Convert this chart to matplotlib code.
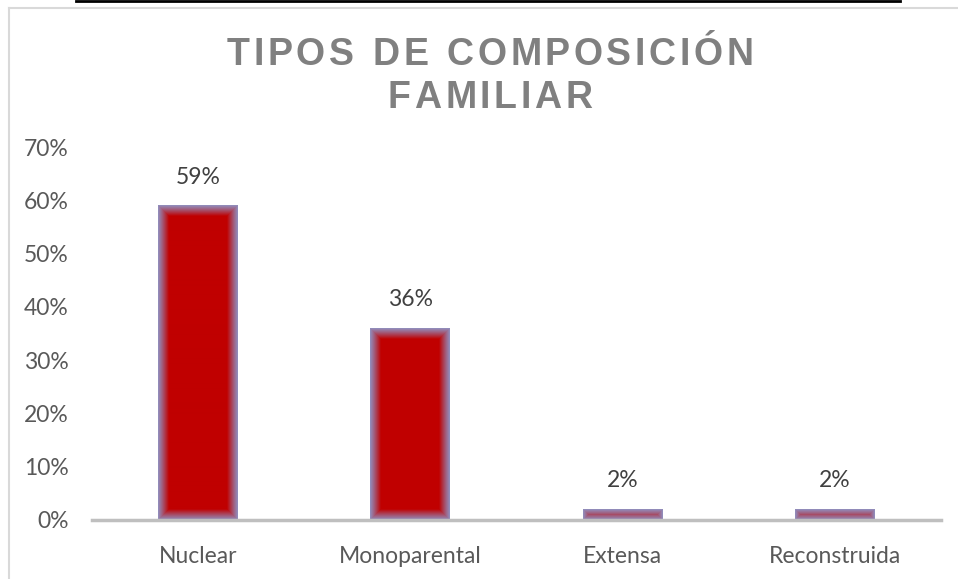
import numpy as np
import matplotlib
matplotlib.use("Agg")
import matplotlib.pyplot as plt
from matplotlib.lines import Line2D
from matplotlib.colors import to_rgb

# data
categories = ["Nuclear", "Monoparental", "Extensa", "Reconstruida"]
values = [0.59, 0.36, 0.02, 0.02]
value_labels = ["59%", "36%", "2%", "2%"]
yticks = [0, 0.1, 0.2, 0.3, 0.4, 0.5, 0.6, 0.7]
ytick_labels = ["0%", "10%", "20%", "30%", "40%", "50%", "60%", "70%"]
title_lines = ["TIPOS DE COMPOSICIÓN", "FAMILIAR"]

W, H = 958, 579
fig = plt.figure(figsize=(W / 100, H / 100), dpi=100)
ax = fig.add_axes([92 / W, 1 - 520 / H, (941 - 92) / W, (520 - 147) / H])

x = np.arange(len(categories))
bars = ax.bar(x, values, width=0.376, color="#C00000", zorder=2)

ax.set_xlim(-0.5, len(categories) - 0.5)
ax.set_ylim(0, 0.7)
ax.set_yticks(yticks)
ax.set_yticklabels(ytick_labels)
ax.set_xticks(x)
ax.set_xticklabels(categories)
for s in ["top", "right", "left"]:
    ax.spines[s].set_visible(False)
ax.spines["bottom"].set_color("#BFBFBF")
ax.spines["bottom"].set_linewidth(2.5)
ax.spines["bottom"].set_zorder(3)
ax.tick_params(axis="both", length=0, labelcolor="#595959", labelsize=16.5)
ax.tick_params(axis="y", pad=17)
ax.tick_params(axis="x", pad=19)
for lab in ax.get_xticklabels() + ax.get_yticklabels():
    lab.set_fontfamily("Lato")

# data labels
for xi, v, lab in zip(x, values, value_labels):
    ax.annotate(lab, (xi, v), xytext=(0, 13), textcoords="offset points",
                ha="center", va="bottom", fontsize=16.5, color="#404040",
                fontfamily="Lato")

# soft bluish glow on bar edges
fig.canvas.draw()
red = np.array(to_rgb("#C00000"))
edge = np.array(to_rgb("#9090C0"))
for b in bars:
    bb = b.get_window_extent()
    wpx, hpx = max(int(round(bb.width)), 2), max(int(round(bb.height)), 2)
    xx = np.arange(wpx) + 0.5
    yy = np.arange(hpx) + 0.5
    dx = np.minimum(xx, wpx - xx)[None, :]
    dy = np.minimum(yy, hpx - yy)[:, None]
    d = np.minimum(dx, dy)
    t = np.clip(d / 11.0, 0, 1)[..., None] ** 1.1
    img = edge * (1 - t) + red * t
    x0 = b.get_x()
    ax.imshow(img, extent=(x0, x0 + b.get_width(), 0, b.get_height()),
              aspect="auto", interpolation="bilinear", zorder=2.5, origin="lower")
ax.set_xlim(-0.5, len(categories) - 0.5)
ax.set_ylim(0, 0.7)

# title with letter spacing
renderer = fig.canvas.get_renderer()


def spaced_line(text, cx, baseline_y, size, spacing):
    widths = []
    for ch in text:
        t = fig.text(0, 0, ch if ch != " " else "n", fontsize=size, fontweight="bold",
                     fontfamily="Liberation Sans")
        w = t.get_window_extent(renderer).width
        if ch == " ":
            w *= 0.5
        widths.append(w)
        t.remove()
    total = sum(widths) + spacing * (len(text) - 1)
    pos = cx - total / 2
    for ch, w in zip(text, widths):
        if ch != " ":
            fig.text(pos / W, 1 - baseline_y / H, ch, fontsize=size, fontweight="bold",
                     fontfamily="Liberation Sans", color="#808080",
                     va="baseline", ha="left")
        pos += w + spacing


spaced_line(title_lines[0], 490, 65, 27, 3.6)
spaced_line(title_lines[1], 490, 108, 27, 3.6)

# chart border and top rule
fig.add_artist(Line2D([9 / W, 9 / W], [0, 1 - 8 / H], color="#D9D9D9", lw=1.5))
fig.add_artist(Line2D([9 / W, 1], [1 - 8 / H, 1 - 8 / H], color="#D9D9D9", lw=1.5))
fig.add_artist(Line2D([76 / W, 900 / W], [1 - 1 / H, 1 - 1 / H], color="black", lw=2))

fig.savefig("out.png", dpi=100)
